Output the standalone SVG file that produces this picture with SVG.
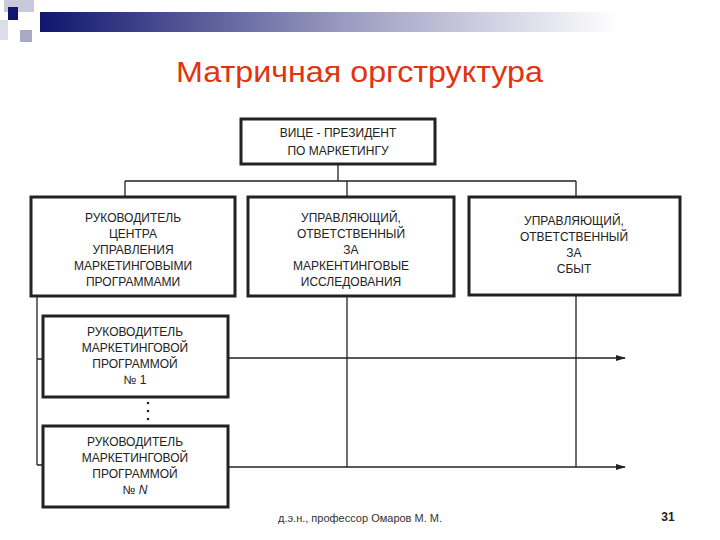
<svg xmlns="http://www.w3.org/2000/svg" width="720" height="540" viewBox="0 0 720 540">
<defs>
<linearGradient id="g" x1="0" x2="1" y1="0" y2="0"><stop offset="0" stop-color="#10156e"/><stop offset="0.45" stop-color="#9a9cc0"/><stop offset="0.85" stop-color="#ffffff"/></linearGradient>
<marker id="ar" markerWidth="10" markerHeight="8" refX="9" refY="4" orient="auto" markerUnits="userSpaceOnUse"><path d="M0,1 L10,4 L0,7 Z" fill="#222"/></marker>
<style>
.box{fill:#fff;stroke:#222;stroke-width:3}
.t{font-family:"Liberation Sans",Arial,sans-serif;font-size:12px;fill:#222;text-anchor:middle}
.c{stroke:#222;stroke-width:1.3;fill:none}
</style>
</defs>
<rect width="720" height="540" fill="#fff"/>
<rect x="40" y="12" width="680" height="20" fill="url(#g)"/>
<rect x="4" y="0" width="30" height="12" fill="#c8cadc"/>
<rect x="8" y="7" width="10" height="13" fill="#10156e"/>
<rect x="20" y="30" width="12" height="12" fill="#a8aac8"/>
<rect x="0" y="20" width="8" height="20" fill="#dcdde8"/>
<text x="176" y="82" font-family="Liberation Sans,Arial,sans-serif" font-size="30" fill="#e2330e" textLength="367" lengthAdjust="spacingAndGlyphs">Матричная оргструктура</text>
<g id="connectors" class="c">
<path d="M338,164 V181 M125,181 H576 M125,181 V197 M347,181 V197 M576,181 V197"/>
<path d="M37,296 V465 M37,359 H43 M37,465 H43"/>
<path d="M347,296 V467 M576,296 V467"/>
<path d="M228,358 H625" marker-end="url(#ar)"/>
<path d="M228,467 H625" marker-end="url(#ar)"/>
</g>
<g id="vp"><rect class="box" x="241" y="119" width="194" height="45"/><text class="t" x="338" y="137">ВИЦЕ - ПРЕЗИДЕНТ</text><text class="t" x="338" y="155">ПО МАРКЕТИНГУ</text></g>
<g id="center"><rect class="box" x="31" y="197" width="204" height="99"/><text class="t" x="133" y="222">РУКОВОДИТЕЛЬ</text><text class="t" x="133" y="238">ЦЕНТРА</text><text class="t" x="133" y="254">УПРАВЛЕНИЯ</text><text class="t" x="133" y="270">МАРКЕТИНГОВЫМИ</text><text class="t" x="133" y="286">ПРОГРАММАМИ</text></g>
<g id="research"><rect class="box" x="248" y="197" width="206" height="99"/><text class="t" x="351" y="222">УПРАВЛЯЮЩИЙ,</text><text class="t" x="351" y="238">ОТВЕТСТВЕННЫЙ</text><text class="t" x="351" y="254">ЗА</text><text class="t" x="351" y="270">МАРКЕНТИНГОВЫЕ</text><text class="t" x="351" y="286">ИССЛЕДОВАНИЯ</text></g>
<g id="sales"><rect class="box" x="469" y="197" width="211" height="98"/><text class="t" x="574" y="225">УПРАВЛЯЮЩИЙ,</text><text class="t" x="574" y="241">ОТВЕТСТВЕННЫЙ</text><text class="t" x="574" y="257">ЗА</text><text class="t" x="574" y="273">СБЫТ</text></g>
<g id="prog1"><rect class="box" x="43" y="316" width="185" height="81"/><text class="t" x="135" y="336">РУКОВОДИТЕЛЬ</text><text class="t" x="135" y="352">МАРКЕТИНГОВОЙ</text><text class="t" x="135" y="368">ПРОГРАММОЙ</text><text class="t" x="135" y="384">№ 1</text></g>
<g id="dots" fill="#222"><circle cx="148" cy="403" r="1.3"/><circle cx="148" cy="411" r="1.3"/><circle cx="148" cy="419" r="1.3"/></g>
<g id="progN"><rect class="box" x="43" y="426" width="185" height="81"/><text class="t" x="135" y="446">РУКОВОДИТЕЛЬ</text><text class="t" x="135" y="462">МАРКЕТИНГОВОЙ</text><text class="t" x="135" y="478">ПРОГРАММОЙ</text><text class="t" x="135" y="494">№ <tspan font-style="italic">N</tspan></text></g>
<text x="360" y="522" font-family="Liberation Sans,Arial,sans-serif" font-size="11" fill="#333" text-anchor="middle">д.э.н., профессор Омаров М. М.</text>
<text x="668" y="521" font-family="Liberation Sans,Arial,sans-serif" font-size="12" font-weight="bold" fill="#222" text-anchor="middle">31</text>
</svg>
